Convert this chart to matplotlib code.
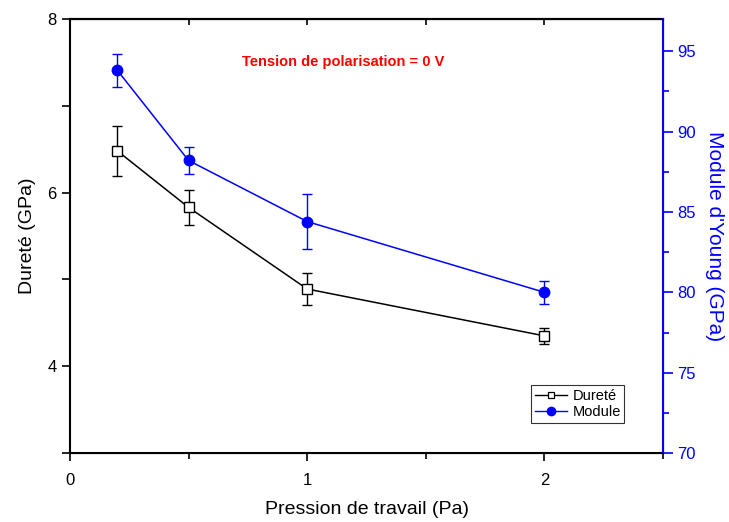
import numpy as np
import matplotlib.pyplot as plt
from matplotlib.ticker import MultipleLocator
from matplotlib.lines import Line2D

plt.rcParams['font.family'] = ['Liberation Sans', 'DejaVu Sans']

# pressure values (Pa)
pression = [0.2, 0.5, 1.0, 2.0]
# hardness (GPa) and its error
durete = [6.48, 5.83, 4.89, 4.35]
durete_err = [0.29, 0.20, 0.18, 0.09]
# Young modulus (GPa) and its error
module = [93.8, 88.2, 84.4, 80.0]
module_err = [1.0, 0.85, 1.7, 0.7]

fig = plt.figure(figsize=(7.29, 5.22), dpi=100)
ax = fig.add_axes([0.096, 0.132, 0.8135, 0.8316])
ax2 = ax.twinx()

ax.errorbar(pression, durete, yerr=durete_err, color='black', lw=1.1,
            marker='s', ms=6.5, mfc='white', mec='black', mew=1.0,
            capsize=3.5, elinewidth=1.0, capthick=1.0)
ax2.errorbar(pression, module, yerr=module_err, color='#0000ff', lw=1.1,
             marker='o', ms=7.5, mfc='#0000ff', mec='#0000ff',
             capsize=3.5, elinewidth=1.0, capthick=1.0)

ax.set_xlim(0, 2.5)
ax.set_ylim(3, 8)
ax2.set_ylim(70, 97)

ax.xaxis.set_major_locator(MultipleLocator(1))
ax.xaxis.set_minor_locator(MultipleLocator(0.5))
ax.yaxis.set_major_locator(MultipleLocator(2))
ax.yaxis.set_minor_locator(MultipleLocator(1))
ax2.yaxis.set_major_locator(MultipleLocator(5))
ax2.yaxis.set_minor_locator(MultipleLocator(2.5))

ax.tick_params(axis='x', which='major', direction='out', length=6, width=1.2, labelsize=12, pad=8)
ax.tick_params(axis='x', which='minor', direction='out', length=4, width=1.2)
ax.tick_params(axis='y', which='both', direction='out', length=6, width=1.2, labelsize=12)
ax2.tick_params(axis='y', which='major', direction='out', length=7, width=1.2,
                colors='#0000ff', labelsize=12)
ax2.tick_params(axis='y', which='minor', direction='out', length=4, width=1.2, colors='#0000ff')

top = ax.secondary_xaxis('top')
top.xaxis.set_major_locator(MultipleLocator(0.5))
top.tick_params(direction='in', length=4, width=1.2, labeltop=False)
top.spines['top'].set_linewidth(1.5)

for s in ['left', 'bottom', 'top']:
    ax.spines[s].set_linewidth(1.5)
ax2.spines['right'].set_color('#0000ff')
ax2.spines['right'].set_linewidth(1.5)
ax2.spines['left'].set_visible(False)

ax.set_xlabel('Pression de travail (Pa)', fontsize=14, labelpad=10)
ax.set_ylabel('Dureté (GPa)', fontsize=14, labelpad=8)
ax2.set_ylabel("Module d'Young (GPa)", fontsize=15, color='#0000ff', rotation=270, labelpad=20)

ax.text(0.46, 0.9, 'Tension de polarisation = 0 V', transform=ax.transAxes,
        color='red', fontsize=10.5, fontweight='bold', ha='center', va='center')

h1 = Line2D([], [], color='black', lw=1.0, marker='s', ms=5, mfc='white', mec='black', mew=0.9)
h2 = Line2D([], [], color='#0000ff', lw=1.0, marker='o', ms=6, mfc='#0000ff', mec='#0000ff')
leg = ax.legend([h1, h2], ['Dureté', 'Module'], loc='lower right',
                bbox_to_anchor=(0.935, 0.07), fontsize=10.5, frameon=True,
                fancybox=False, edgecolor='black', handlelength=2.2,
                borderpad=0.25, labelspacing=0.15, handletextpad=0.4, borderaxespad=0)
leg.get_frame().set_linewidth(0.8)

fig.savefig('out.png', dpi=100)
